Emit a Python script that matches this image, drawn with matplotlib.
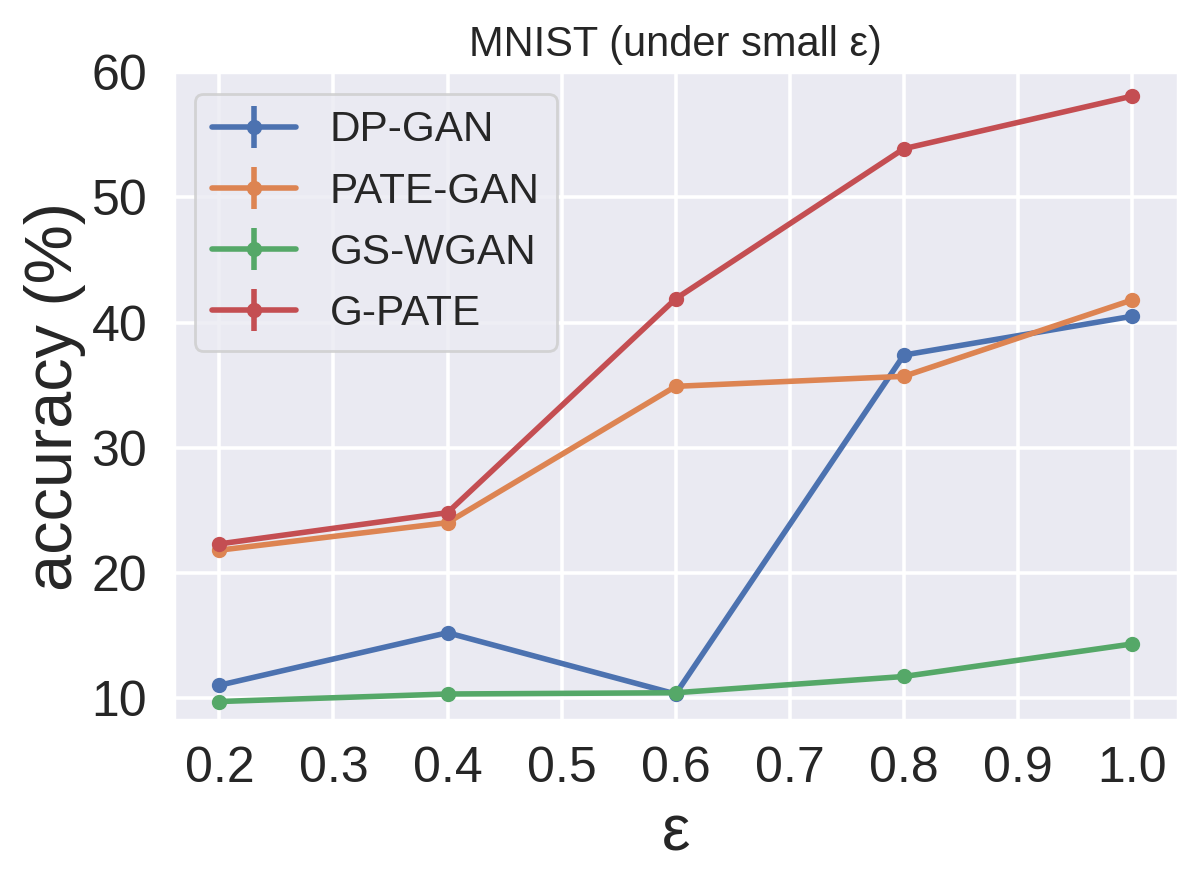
import numpy as np
import matplotlib
matplotlib.use('Agg')
import matplotlib.pyplot as plt
import seaborn as sns

# privacy budget
eps = [0.2, 0.4, 0.6, 0.8, 1.0]

# accuracy (%)
dp_gan = [11.0, 15.2, 10.3, 37.4, 40.5]
pate_gan = [21.8, 24.0, 34.9, 35.7, 41.8]
gs_wgan = [9.7, 10.3, 10.4, 11.7, 14.3]
g_pate = [22.3, 24.8, 41.9, 53.9, 58.1]

names = ['DP-GAN', 'PATE-GAN', 'GS-WGAN', 'G-PATE']
series = [dp_gan, pate_gan, gs_wgan, g_pate]

sns.set_theme(style='darkgrid', rc={'grid.linewidth': 1.3})
plt.rcParams['font.family'] = ['Liberation Sans', 'DejaVu Sans']

fig = plt.figure(figsize=(5.99, 4.415), dpi=200)
ax = fig.add_axes([0.145, 0.185, 0.838, 0.733])

for name, vals in zip(names, series):
    ax.errorbar(eps, vals, yerr=np.zeros(len(vals)), marker='o', markersize=4.5,
                linewidth=2, label=name)

ax.set_ylim(8.25, 60)
ax.set_xticks([0.2, 0.3, 0.4, 0.5, 0.6, 0.7, 0.8, 0.9, 1.0])
ax.set_yticks([10, 20, 30, 40, 50, 60])
ax.tick_params(labelsize=18)
ax.set_xlabel('ε', fontsize=23)
ax.set_ylabel('accuracy (%)', fontsize=24, labelpad=2)
ax.set_title('MNIST (under small ε)', fontsize=15)
ax.legend(loc='upper left', fontsize=15.2)

fig.savefig('out.png', dpi=200)
